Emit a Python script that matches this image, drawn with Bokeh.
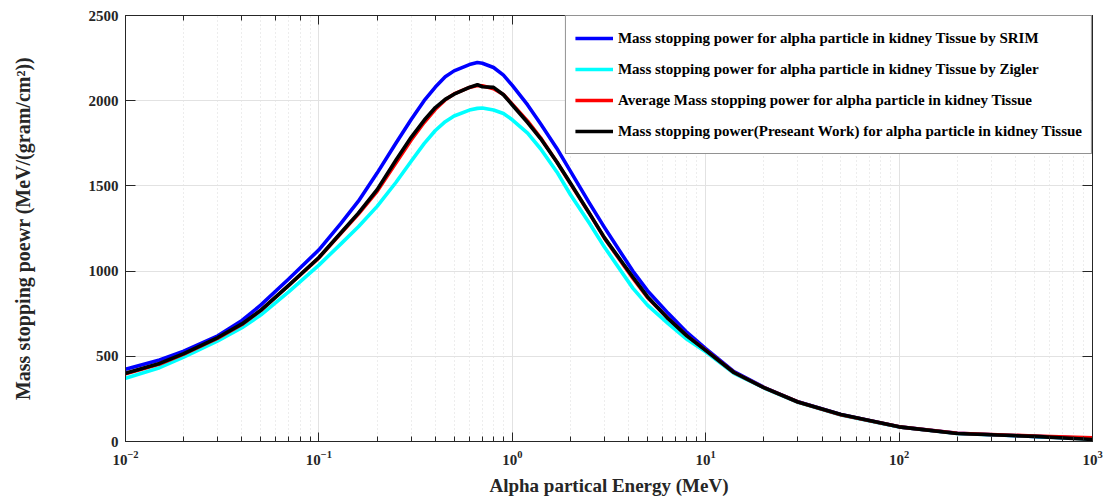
from bokeh.plotting import figure
from bokeh.models import (LogAxis, LinearAxis, Legend, LegendItem, FixedTicker,
                          Range1d, CustomJSTickFormatter, LogTicker)
from bokeh.embed import file_html
from bokeh.resources import INLINE

# Alpha particle energy (MeV)
energy = [0.01, 0.015, 0.02, 0.03, 0.04, 0.05, 0.07, 0.1, 0.13, 0.16, 0.2, 0.25, 0.3,
          0.35, 0.4, 0.45, 0.5, 0.6, 0.66, 0.7, 0.8, 0.9, 1.0, 1.2, 1.4, 1.7, 2, 2.5, 3,
          4.2, 5, 6.4, 8, 10, 14, 20, 30, 50, 100, 200, 500, 1000]

# Mass stopping power (MeV/(g/cm^2))
srim = [424, 478, 530, 620, 710, 800, 955, 1125, 1280, 1410, 1575, 1750, 1890,
        2000, 2080, 2140, 2175, 2212, 2224, 2220, 2195, 2150, 2090, 1975, 1865, 1720,
        1585, 1400, 1255, 1000, 885, 752, 640, 545, 410, 318, 233, 158, 86, 48, 30, 17]
ziegler = [371, 433, 496, 590, 668, 742, 880, 1035, 1160, 1260, 1380, 1520, 1645,
           1748, 1825, 1877, 1910, 1945, 1955, 1957, 1945, 1925, 1888, 1810, 1718, 1582,
           1448, 1282, 1140, 900, 800, 692, 600, 526, 400, 314, 230, 156, 85, 47, 30, 15]
average = [397, 455, 513, 607, 687, 768, 917, 1078, 1222, 1335, 1468, 1635, 1770,
           1872, 1950, 2005, 2040, 2078, 2089, 2088, 2070, 2036, 1980, 1880, 1782, 1640,
           1512, 1340, 1192, 958, 845, 722, 620, 536, 405, 316, 232, 157, 86, 48, 32, 22]
present = [400, 458, 516, 610, 690, 770, 918, 1080, 1225, 1340, 1478, 1650, 1785,
           1885, 1960, 2008, 2038, 2078, 2094, 2082, 2078, 2035, 1975, 1872, 1778, 1640,
           1515, 1340, 1195, 965, 850, 721, 620, 535, 405, 316, 232, 158, 86, 47, 30, 12]

labels = [
    "Mass stopping power for alpha particle in kidney Tissue by SRIM",
    "Mass stopping power for alpha particle in kidney Tissue by Zigler",
    "Average Mass stopping power for alpha particle in kidney Tissue",
    "Mass stopping power(Preseant Work) for alpha particle in kidney Tissue",
]
colors = ["#0000ff", "#00ffff", "#ff0000", "#000000"]
y_ticks = [0, 500, 1000, 1500, 2000, 2500]

FONT = "Liberation Serif"
AX = "#262626"

p = figure(width=1104, height=500, x_axis_type="log",
           x_range=Range1d(0.01, 1000), y_range=Range1d(0, 2500),
           output_backend="svg", toolbar_location=None,
           min_border_left=125, min_border_right=12, min_border_top=15,
           min_border_bottom=59)
p.outline_line_color = None

rs = []
for ys, c in zip([srim, ziegler, average, present], colors):
    rs.append(p.line(energy, ys, line_color=c, line_width=3.6, line_join="round"))

# extra box axes (top / right) with inward ticks, no labels
top = LogAxis(ticker=LogTicker(), formatter=CustomJSTickFormatter(code="return ''"))
p.add_layout(top, "above")
right = LinearAxis(ticker=FixedTicker(ticks=y_ticks),
                   formatter=CustomJSTickFormatter(code="return ''"))
p.add_layout(right, "right")

for ax in p.xaxis:
    ax.major_tick_in = 9
    ax.major_tick_out = 0
    ax.minor_tick_in = 5
    ax.minor_tick_out = 0
for ax in p.yaxis:
    ax.ticker = FixedTicker(ticks=y_ticks)
    ax.major_tick_in = 10
    ax.major_tick_out = 0
    ax.minor_tick_line_color = None
for ax in p.xaxis + p.yaxis:
    ax.axis_line_color = AX
    ax.major_tick_line_color = AX
    ax.major_label_text_font = FONT
    ax.major_label_text_font_style = "bold"
    ax.major_label_text_font_size = "15px"
    ax.major_label_text_color = AX
    ax.axis_label_text_font = FONT
    ax.axis_label_text_font_style = "bold"
    ax.axis_label_text_color = AX
for ax in p.xaxis:
    ax.minor_tick_line_color = AX
top.major_label_standoff = 0
right.major_label_standoff = 0
top.major_label_text_font_size = "1px"
right.major_label_text_font_size = "1px"

xa = p.below[0]
xa.axis_label = "Alpha partical Energy (MeV)"
xa.axis_label_text_font_size = "19px"
xa.major_label_standoff = 9
xa.axis_label_standoff = 7

ya = p.left[0]
ya.axis_label = "Mass stopping poewr (MeV/(gram/cm\u00b2))"
ya.axis_label_text_font_size = "20px"
ya.major_label_standoff = 7
ya.axis_label_standoff = 52

p.xgrid.grid_line_color = "#e2e2e2"
p.xgrid.minor_grid_line_color = "#dadada"
p.xgrid.minor_grid_line_dash = "1 3"
p.ygrid.grid_line_color = "#e2e2e2"
p.ygrid.ticker = FixedTicker(ticks=y_ticks)

legend = Legend(items=[LegendItem(label=l, renderers=[r]) for l, r in zip(labels, rs)],
                location="top_right", margin=0, padding=9, spacing=5,
                glyph_width=38, glyph_height=26, label_height=26, label_standoff=5,
                label_text_font=FONT, label_text_font_style="bold",
                label_text_font_size="15px", label_text_color="#000000",
                border_line_color=AX, border_line_width=1,
                background_fill_color="white", background_fill_alpha=1)
p.add_layout(legend)

open("out.html", "w").write(file_html(p, INLINE))
